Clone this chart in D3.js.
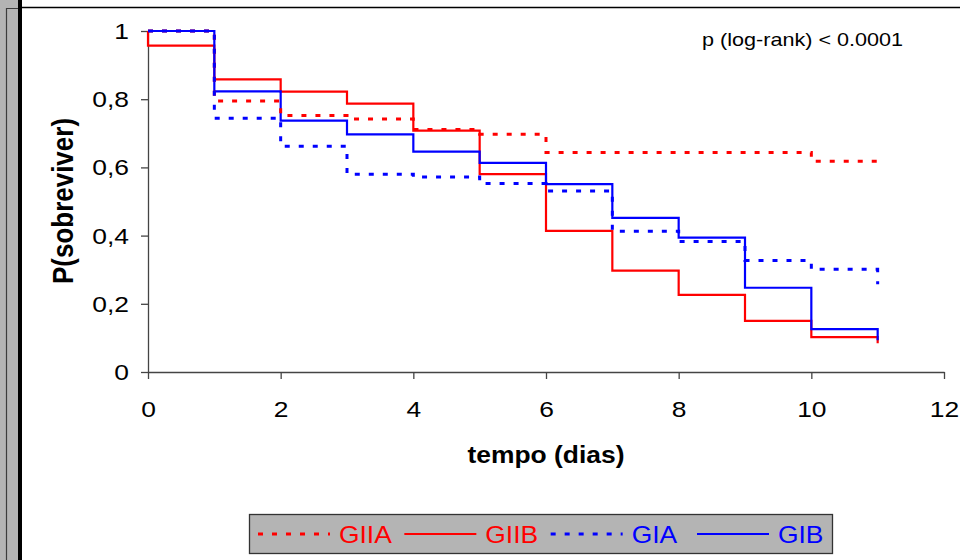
<!DOCTYPE html>
<html>
<head>
<meta charset="utf-8">
<script src="https://cdn.jsdelivr.net/npm/d3@7"></script>
<style>
  body { margin: 0; background: #fff; }
  svg { display: block; }
  text { font-family: "Liberation Sans", Arial, sans-serif; }
</style>
</head>
<body>
<div id="chart"></div>
<script>
// survival estimates, value holding from day i to day i+1
var days = [0, 1, 2, 3, 4, 5, 6, 7, 8, 9, 10, 11];
var giia = [1, 0.795, 0.752, 0.742, 0.711, 0.697, 0.644, 0.644, 0.644, 0.644, 0.618, 0.618];
var giib = [0.957, 0.858, 0.822, 0.787, 0.708, 0.580, 0.414, 0.297, 0.226, 0.150, 0.102, 0.084];
var gia = [1, 0.744, 0.662, 0.580, 0.572, 0.553, 0.531, 0.413, 0.383, 0.327, 0.301, 0.257];
var gib = [1, 0.823, 0.737, 0.697, 0.646, 0.613, 0.551, 0.452, 0.394, 0.247, 0.126, 0.093];
var startValue = 1;

var groupNames = ["GIIA", "GIIB", "GIA", "GIB"];
var xTicks = [0, 2, 4, 6, 8, 10, 12];
var yTicks = [0, 0.2, 0.4, 0.6, 0.8, 1];
var yTickLabels = ["0", "0,2", "0,4", "0,6", "0,8", "1"];
var pText = "p (log-rank) < 0.0001";

var series = {
    GIIA: { values: giia, color: "#ff0000", dashed: true },
    GIIB: { values: giib, color: "#ff0000", dashed: false },
    GIA: { values: gia, color: "#0000ff", dashed: true },
    GIB: { values: gib, color: "#0000ff", dashed: false }
};
var drawOrder = ["GIIB", "GIB", "GIIA", "GIA"];

var width = 960, height = 560;
var sx = 1.2;   // the original picture is stretched sideways

var svg = d3.select("#chart")
    .append("svg")
    .attr("width", width)
    .attr("height", height);

// window frame on the left and top
svg.append("rect").attr("x", 0).attr("y", 0).attr("width", 18).attr("height", height).attr("fill", "#b4b4b4");
svg.append("path").attr("d", "M6.5,560V8.5H18").attr("fill", "none").attr("stroke", "#3c3c3c").attr("stroke-width", 1.2);
svg.append("rect").attr("x", 18).attr("y", 0).attr("width", 4).attr("height", height).attr("fill", "#000");
svg.append("line").attr("x1", 22).attr("x2", width).attr("y1", 7.5).attr("y2", 7.5)
    .attr("stroke", "#000").attr("stroke-width", 1.5);

var x = d3.scaleLinear().domain([0, 12]).range([148, 944]);
var y = d3.scaleLinear().domain([0, 1]).range([372, 31]);

// X axis
var xAxis = svg.append("g")
    .attr("transform", "translate(0," + y(0) + ")")
    .call(d3.axisBottom(x).tickValues(xTicks).tickSize(7).tickSizeOuter(0).tickPadding(0));
xAxis.selectAll("text")
    .attr("y", 0).attr("dy", null)
    .attr("transform", "translate(0,45) scale(" + sx + ",1)")
    .style("font-size", "22px").attr("fill", "#000");

// Y axis
var yAxis = svg.append("g")
    .attr("transform", "translate(" + x(0) + ",0)")
    .call(d3.axisLeft(y).tickValues(yTicks).tickSize(7).tickSizeOuter(0)
        .tickFormat(function (d, i) { return yTickLabels[i]; }));
yAxis.selectAll("text")
    .attr("x", 0).attr("dy", null)
    .attr("transform", "translate(-19,7.5) scale(" + sx + ",1)")
    .style("font-size", "22px").attr("fill", "#000");

svg.selectAll(".domain, .tick line").attr("stroke", "#444").attr("stroke-width", 1.3);

// axis titles
svg.append("text")
    .attr("transform", "translate(546,463) scale(1.1,1)")
    .attr("text-anchor", "middle")
    .style("font-size", "24px").style("font-weight", "bold")
    .text("tempo (dias)");

svg.append("text")
    .attr("transform", "translate(73,201) scale(1.15,1) rotate(-90)")
    .attr("text-anchor", "middle")
    .style("font-size", "26px").style("font-weight", "bold")
    .text("P(sobreviver)");

svg.append("text")
    .attr("transform", "translate(702,46) scale(" + sx + ",1)")
    .style("font-size", "18px")
    .text(pText);

// step curves
var line = d3.line()
    .x(function (d) { return x(d[0]); })
    .y(function (d) { return y(d[1]); })
    .curve(d3.curveStepAfter);

drawOrder.forEach(function (name) {
    var s = series[name];
    var pts = [[0, startValue]].concat(days.map(function (t, i) { return [t, s.values[i]]; }));
    svg.append("path")
        .datum(pts)
        .attr("d", line)
        .attr("fill", "none")
        .attr("stroke", s.color)
        .attr("stroke-width", s.dashed ? 3 : 2.2)
        .attr("stroke-dasharray", s.dashed ? "5,9" : null);
});

// legend
var legend = svg.append("g");
legend.append("rect")
    .attr("x", 249.5).attr("y", 514.5).attr("width", 583).attr("height", 39)
    .attr("fill", "#b4b4b4").attr("stroke", "#333").attr("stroke-width", 1.3);

var legendX = d3.scalePoint().domain(groupNames).range([258, 697]);
groupNames.forEach(function (name) {
    var s = series[name];
    var lx = legendX(name);
    legend.append("line")
        .attr("x1", lx).attr("x2", lx + 72)
        .attr("y1", 534).attr("y2", 534)
        .attr("stroke", s.color)
        .attr("stroke-width", s.dashed ? 3 : 2.2)
        .attr("stroke-dasharray", s.dashed ? "5,9" : null);
    legend.append("text")
        .attr("transform", "translate(" + (lx + 81) + ",543) scale(1.1,1)")
        .style("font-size", "24px")
        .attr("fill", s.color)
        .text(name);
});
</script>
</body>
</html>
